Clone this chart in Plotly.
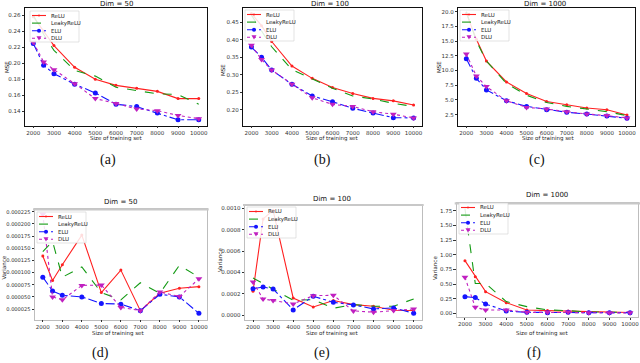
import plotly.graph_objects as go

# ---------------- data ----------------
sizes = [2000, 2500, 3000, 4000, 5000, 6000, 7000, 8000, 9000, 10000]
x_tick_vals = [2000, 3000, 4000, 5000, 6000, 7000, 8000, 9000, 10000]
x_tick_text = ["2000", "3000", "4000", "5000", "6000", "7000", "8000", "9000", "10000"]

mse50_relu = [0.258, 0.240, 0.222, 0.195, 0.180, 0.1725, 0.169, 0.165, 0.156, 0.156]
mse50_leaky = [0.260, 0.236, 0.216, 0.191, 0.184, 0.170, 0.166, 0.162, 0.161, 0.149]
mse50_elu = [0.2246, 0.1975, 0.187, 0.174, 0.163, 0.149, 0.146, 0.138, 0.1296, 0.1296]
mse50_dlu = [0.226, 0.2017, 0.192, 0.1746, 0.156, 0.150, 0.143, 0.141, 0.135, 0.131]

mse100_relu = [0.475, 0.440, 0.395, 0.325, 0.290, 0.264, 0.247, 0.233, 0.226, 0.214]
mse100_leaky = [0.470, 0.425, 0.380, 0.315, 0.289, 0.262, 0.240, 0.231, 0.219, 0.210]
mse100_elu = [0.379, 0.350, 0.3135, 0.273, 0.240, 0.2235, 0.2047, 0.1916, 0.178, 0.1775]
mse100_dlu = [0.384, 0.3435, 0.3135, 0.273, 0.2347, 0.216, 0.210, 0.195, 0.188, 0.1775]

mse1000_relu = [19.7, 15.3, 11.6, 8.05, 6.08, 4.74, 4.18, 3.62, 3.34, 2.44]
mse1000_leaky = [20.0, 15.0, 11.6, 7.8, 5.8, 4.57, 3.9, 3.45, 3.0, 2.33]
mse1000_elu = [12.0, 8.66, 6.7, 4.85, 3.9, 3.34, 2.9, 2.6, 2.28, 1.88]
mse1000_dlu = [12.8, 9.05, 7.26, 4.85, 3.73, 3.45, 3.0, 2.6, 2.33, 1.94]

var50_relu = [0.000134, 0.0000838, 0.000116, 0.000177, 0.0000588, 0.000105, 0.0000216, 0.0000574, 0.0000676, 0.000071]
var50_leaky = [0.000143, 0.000164, 0.0000905, 0.0001115, 0.0000588, 0.0000439, 0.000079, 0.0000574, 0.0001149, 0.0000905]
var50_elu = [0.0000905, 0.0000622, 0.0000534, 0.00005, 0.0000365, 0.0000351, 0.0000216, 0.0000554, 0.00005, 0.0000162]
var50_dlu = [0.000220, 0.00005, 0.0000439, 0.0000736, 0.0000743, 0.0000284, 0.0000216, 0.0000601, 0.0000507, 0.0000872]

var100_relu = [0.000224, 0.0009, 0.00098, 0.000161, 0.0000776, 0.000137, 0.0000994, 0.0000838, 0.0000466, 0.0000435]
var100_leaky = [0.000348, 0.000295, 0.000240, 0.00014, 0.000146, 0.0000652, 0.0000994, 0.0000838, 0.0000838, 0.000152]
var100_elu = [0.000248, 0.000264, 0.000245, 0.0000497, 0.000177, 0.000121, 0.0000963, 0.000059, 0.0000683, 0.0000186]
var100_dlu = [0.00031, 0.000152, 0.000137, 0.000106, 0.000183, 0.000186, 0.0000404, 0.000028, 0.0000435, 0.000059]

var1000_relu = [0.90, 0.626, 0.37, 0.182, 0.057, 0.046, 0.04, 0.023, 0.02, 0.015]
var1000_leaky = [1.79, 0.51, 0.51, 0.20, 0.114, 0.057, 0.046, 0.023, 0.02, 0.015]
var1000_elu = [0.285, 0.268, 0.16, 0.04, 0.017, 0.011, 0.017, 0.011, 0.011, 0.011]
var1000_dlu = [0.615, 0.1025, 0.057, 0.057, 0.017, 0.017, 0.023, 0.011, 0.008, 0.008]

series_names = ["ReLU", "LeakyReLU", "ELU", "DLU"]
panel_titles = ["Dim = 50", "Dim = 100", "Dim = 1000", "Dim = 50", "Dim = 100", "Dim = 1000"]
panel_labels = ["(a)", "(b)", "(c)", "(d)", "(e)", "(f)"]
y_titles = ["MSE", "MSE", "MSE", "Variance", "Variance", "Variance"]
x_title = "Size of training set"

yticks_a = [0.14, 0.16, 0.18, 0.20, 0.22, 0.24, 0.26]
yticks_b = [0.20, 0.25, 0.30, 0.35, 0.40, 0.45]
yticks_c = [2.5, 5.0, 7.5, 10.0, 12.5, 15.0, 17.5, 20.0]
yticks_d = [0.000025, 0.00005, 0.000075, 0.0001, 0.000125, 0.00015, 0.000175, 0.0002, 0.000225]
yticks_e = [0.0, 0.0002, 0.0004, 0.0006, 0.0008, 0.0010]
yticks_f = [0.0, 0.25, 0.5, 0.75, 1.0, 1.25, 1.5, 1.75]

panels = [
    [mse50_relu, mse50_leaky, mse50_elu, mse50_dlu],
    [mse100_relu, mse100_leaky, mse100_elu, mse100_dlu],
    [mse1000_relu, mse1000_leaky, mse1000_elu, mse1000_dlu],
    [var50_relu, var50_leaky, var50_elu, var50_dlu],
    [var100_relu, var100_leaky, var100_elu, var100_dlu],
    [var1000_relu, var1000_leaky, var1000_elu, var1000_dlu],
]

# ---------------- layout geometry (pixels) ----------------
W, H = 640, 363
def X(px):
    return px / W
def Y(py):
    return 1 - py / H

# box: left, right, top, bottom in px
boxes = [
    (25, 207, 8.3, 125.5),
    (243.3, 421.7, 8.3, 125.5),
    (458.3, 635, 8.3, 125.5),
    (35, 206.7, 209.3, 319.5),
    (245, 421.7, 205, 319.5),
    (456.7, 638.3, 203.3, 316.7),
]
y_ranges = [
    [0.1225, 0.2684],
    [0.1558, 0.4895],
    [0.65, 20.57],
    [0.0000035, 0.00023],
    [-0.00004, 0.00103],
    [-0.058, 1.88],
]
y_tick_sets = [yticks_a, yticks_b, yticks_c, yticks_d, yticks_e, yticks_f]
y_formats = [".2f", ".2f", ".1f", ".6f", ".4f", ".2f"]
y_tick_sizes = [5.5, 5.5, 5.5, 5.1, 5.5, 5.5]

colors = ["#ff2020", "#139a13", "#1515ff", "#c020c0"]
dashes = ["solid", "dash", "dashdot", "dot"]
symbols = ["circle", None, "circle", "triangle-down"]
msizes = [3, 0, 5, 6]

fig = go.Figure()
layout = dict(
    width=W, height=H, autosize=False,
    margin=dict(l=0, r=0, t=0, b=0),
    paper_bgcolor="white", plot_bgcolor="white",
    showlegend=False,
    font=dict(family="DejaVu Sans", size=6, color="#222"),
)

annotations = []
shapes = []

for i, (series, box) in enumerate(zip(panels, boxes)):
    k = "" if i == 0 else str(i + 1)
    xa, ya = "x" + k, "y" + k
    for j, vals in enumerate(series):
        mode = "lines" if symbols[j] is None else "lines+markers"
        tr = go.Scatter(
            x=sizes, y=vals, mode=mode, name=series_names[j],
            xaxis=xa, yaxis=ya,
            line=dict(color=colors[j], width=1.1, dash=dashes[j]),
            showlegend=False,
        )
        if symbols[j] is not None:
            tr.marker = dict(symbol=symbols[j], size=msizes[j], color=colors[j],
                             line=dict(width=0))
        fig.add_trace(tr)

    L, R, T, B = box
    bottom_row = i >= 3
    lc = "#bdbdbd" if bottom_row else "#111"
    layout["xaxis" + k] = dict(
        domain=[X(L), X(R)], anchor=ya, range=[1600, 10400],
        tickvals=x_tick_vals, ticktext=x_tick_text,
        ticks="outside", ticklen=2, tickwidth=0.6, tickcolor="#333",
        showline=True, mirror=True, linecolor=lc, linewidth=0.8,
        showgrid=False, zeroline=False,
        tickfont=dict(size=5.5, color="#333"),
    )
    layout["yaxis" + k] = dict(
        domain=[Y(B), Y(T)], anchor=xa, range=y_ranges[i],
        tickvals=y_tick_sets[i], tickformat=y_formats[i],
        ticks="outside", ticklen=2.5, tickwidth=0.6, tickcolor="#333",
        showline=True, mirror=True, linecolor=lc, linewidth=0.8,
        showgrid=False, zeroline=False,
        tickfont=dict(size=y_tick_sizes[i], color="#333"),
    )
    if bottom_row:
        shapes.append(dict(type="line", xref="paper", yref="paper",
                           x0=X(L - 2), x1=X(R + 2), y0=Y(T), y1=Y(T),
                           line=dict(color="#c8c8c8", width=2.2)))

# titles / labels positions (px)
title_pos = [(116, 3.5), (330, 3.5), (545, 3.5), (120, 202), (332, 199), (547, 195.5)]
ytitle_pos = [(7, 67), (223, 70), (439, 67), (3.6, 268), (220, 260), (435, 268)]
xtitle_pos = [(116, 138), (332, 138), (548, 138), (118, 333), (332, 333), (542, 333)]
label_pos = [(108, 160), (322, 160), (537, 160), (100, 353), (322, 353), (534, 353)]

for i in range(6):
    tx, ty = title_pos[i]
    annotations.append(dict(text=panel_titles[i], x=X(tx), y=Y(ty), xref="paper", yref="paper",
                            showarrow=False, font=dict(size=7, color="#111"),
                            xanchor="center", yanchor="middle"))
    ax_, ay_ = ytitle_pos[i]
    annotations.append(dict(text=y_titles[i], x=X(ax_), y=Y(ay_), xref="paper", yref="paper",
                            showarrow=False, textangle=-90, font=dict(size=5.5, color="#222"),
                            xanchor="center", yanchor="middle"))
    bx, by = xtitle_pos[i]
    annotations.append(dict(text=x_title, x=X(bx), y=Y(by), xref="paper", yref="paper",
                            showarrow=False, font=dict(size=5.5, color="#222"),
                            xanchor="center", yanchor="middle"))
    lx, ly = label_pos[i]
    annotations.append(dict(text=panel_labels[i], x=X(lx), y=Y(ly), xref="paper", yref="paper",
                            showarrow=False, font=dict(family="Liberation Serif", size=14, color="#111"),
                            xanchor="center", yanchor="middle"))

# legends (drawn as shapes + text), top-left px positions
legend_pos = [(30, 11), (245, 10), (460, 10), (37, 212), (247, 207), (459, 203)]
for (lx, ly) in legend_pos:
    shapes.append(dict(type="rect", xref="paper", yref="paper",
                       x0=X(lx), x1=X(lx + 49), y0=Y(ly), y1=Y(ly + 31),
                       fillcolor="rgba(255,255,255,0.85)",
                       line=dict(color="#d0d0d0", width=0.6), layer="above"))
    for j, name in enumerate(series_names):
        yy = ly + 4.5 + j * 7.6
        shapes.append(dict(type="line", xref="paper", yref="paper",
                           x0=X(lx + 2), x1=X(lx + 16), y0=Y(yy), y1=Y(yy),
                           line=dict(color=colors[j], width=1.1, dash=dashes[j]), layer="above"))
        cx = lx + 9
        if j == 0:
            r = 0.9
            shapes.append(dict(type="circle", xref="paper", yref="paper",
                               x0=X(cx - r), x1=X(cx + r), y0=Y(yy + r), y1=Y(yy - r),
                               fillcolor=colors[j], line=dict(width=0), layer="above"))
        elif j == 2:
            r = 2.0
            shapes.append(dict(type="circle", xref="paper", yref="paper",
                               x0=X(cx - r), x1=X(cx + r), y0=Y(yy + r), y1=Y(yy - r),
                               fillcolor=colors[j], line=dict(width=0), layer="above"))
        elif j == 3:
            path = "M {:.5f} {:.5f} L {:.5f} {:.5f} L {:.5f} {:.5f} Z".format(
                X(cx - 2.5), Y(yy - 2), X(cx + 2.5), Y(yy - 2), X(cx), Y(yy + 2.3))
            shapes.append(dict(type="path", xref="paper", yref="paper", path=path,
                               fillcolor=colors[j], line=dict(width=0), layer="above"))
        annotations.append(dict(text=name, x=X(lx + 19), y=Y(yy), xref="paper", yref="paper",
                                showarrow=False, font=dict(size=5.5, color="#222"),
                                xanchor="left", yanchor="middle"))

layout["annotations"] = annotations
layout["shapes"] = shapes
fig.update_layout(**layout)
fig.write_html(
    "out.html",
    config={"displayModeBar": False},
    post_script="document.documentElement.style.margin='0';document.body.style.margin='0';document.body.style.overflow='hidden';",
)
